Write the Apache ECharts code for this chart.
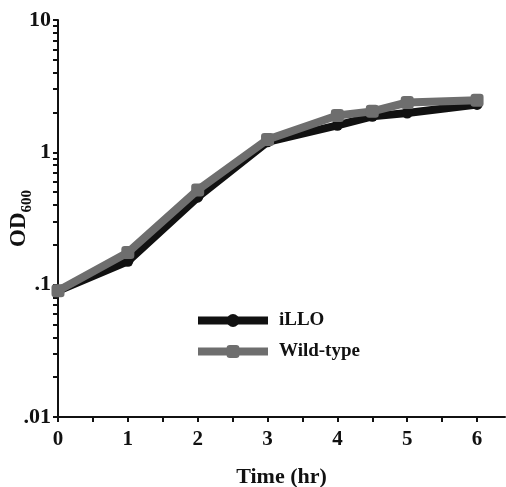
<!DOCTYPE html>
<html><head><meta charset="utf-8">
<script src="https://cdn.jsdelivr.net/npm/echarts@6/dist/echarts.min.js"></script>
<style>html,body{margin:0;padding:0;background:#fff}#c{width:506px;height:487px}</style>
</head><body><div id="c"></div>
<script>
var times = [0, 1, 2, 3, 4, 4.5, 5, 6];
var illo = [0.09, 0.150, 0.458, 1.20, 1.60, 1.87, 1.98, 2.30];
var wildType = [0.09, 0.175, 0.52, 1.25, 1.90, 2.04, 2.38, 2.48];
var xTickValues = [0, 1, 2, 3, 4, 5, 6];
var xMinorTicks = [0.5, 1.5, 2.5, 3.5, 4.5, 5.5];
var yTickValues = [0.01, 0.1, 1, 10];
var yTickLabels = ['.01', '.1', '1', '10'];
var yMinorTicks = [];
[0.01, 0.1, 1].forEach(function (d) { for (var k = 2; k <= 9; k++) yMinorTicks.push(+(d * k).toPrecision(3)); });

var xAllTicks = xTickValues.concat(xMinorTicks).sort(function (a, b) { return a - b; });
var yAllTicks = yTickValues.concat(yMinorTicks).sort(function (a, b) { return a - b; });

var FONT = 'Liberation Serif';
var INK = '#111';
var chart = echarts.init(document.getElementById('c'));
function pairs(xs, ys) { return xs.map(function (x, i) { return [x, ys[i]]; }); }

chart.setOption({
  animation: false,
  grid: { left: 58, right: 1, top: 20, bottom: 70, containLabel: false, outerBoundsMode: 'none' },
  legend: {
    left: 189, top: 306, orient: 'vertical', itemGap: 12,
    itemWidth: 70, itemHeight: 16,
    lineStyle: { width: 8 },
    textStyle: { fontFamily: FONT, fontWeight: 'bold', fontSize: 19, color: INK, padding: [0, 0, 0, 6] },
    data: ['iLLO', 'Wild-type']
  },
  xAxis: {
    type: 'value', min: 0, max: 6.4,
    name: 'Time (hr)', nameLocation: 'middle', nameGap: 49, nameMoveOverlap: false,
    nameTextStyle: { fontFamily: FONT, fontWeight: 'bold', fontSize: 22, color: INK },
    axisLine: { lineStyle: { color: INK, width: 2 } },
    axisTick: { length: 5, lineStyle: { color: INK, width: 2 }, customValues: xAllTicks },
    axisLabel: { customValues: xTickValues, margin: 12, fontFamily: FONT, fontWeight: 'bold', fontSize: 21, color: INK },
    splitLine: { show: false }
  },
  yAxis: {
    type: 'log', logBase: 10, min: 0.01, max: 10,
    name: '{a|OD}{b|600}', nameLocation: 'middle', nameGap: 27, nameRotate: 90, nameMoveOverlap: false,
    nameTextStyle: {
      fontFamily: FONT, fontWeight: 'bold', fontSize: 23, color: INK,
      rich: {
        a: { fontFamily: FONT, fontWeight: 'bold', fontSize: 23, color: INK, verticalAlign: 'bottom', lineHeight: 24 },
        b: { fontFamily: FONT, fontWeight: 'bold', fontSize: 15, color: INK, verticalAlign: 'bottom', padding: [0, 0, -4, 0], lineHeight: 24 }
      }
    },
    axisLine: { show: true, lineStyle: { color: INK, width: 2 } },
    axisTick: { show: true, length: 5, lineStyle: { color: INK, width: 2 }, customValues: yAllTicks },
    axisLabel: {
      customValues: yTickValues,
      margin: 7, fontFamily: FONT, fontWeight: 'bold', fontSize: 22, color: INK,
      formatter: function (v) { var i = yTickValues.findIndex(function (t) { return Math.abs(t - v) / t < 1e-6; }); return i >= 0 ? yTickLabels[i] : ''; }
    },
    splitLine: { show: false }
  },
  series: [
    {
      name: 'iLLO', type: 'line', data: pairs(times, illo),
      symbol: 'circle', symbolSize: 11, z: 2,
      lineStyle: { color: INK, width: 8 }, itemStyle: { color: INK }
    },
    {
      name: 'Wild-type', type: 'line', data: pairs(times, wildType),
      symbol: 'roundRect', symbolSize: 13, z: 3,
      lineStyle: { color: '#6e6e6e', width: 8 }, itemStyle: { color: '#6e6e6e' }
    }
  ]
});
</script></body></html>
